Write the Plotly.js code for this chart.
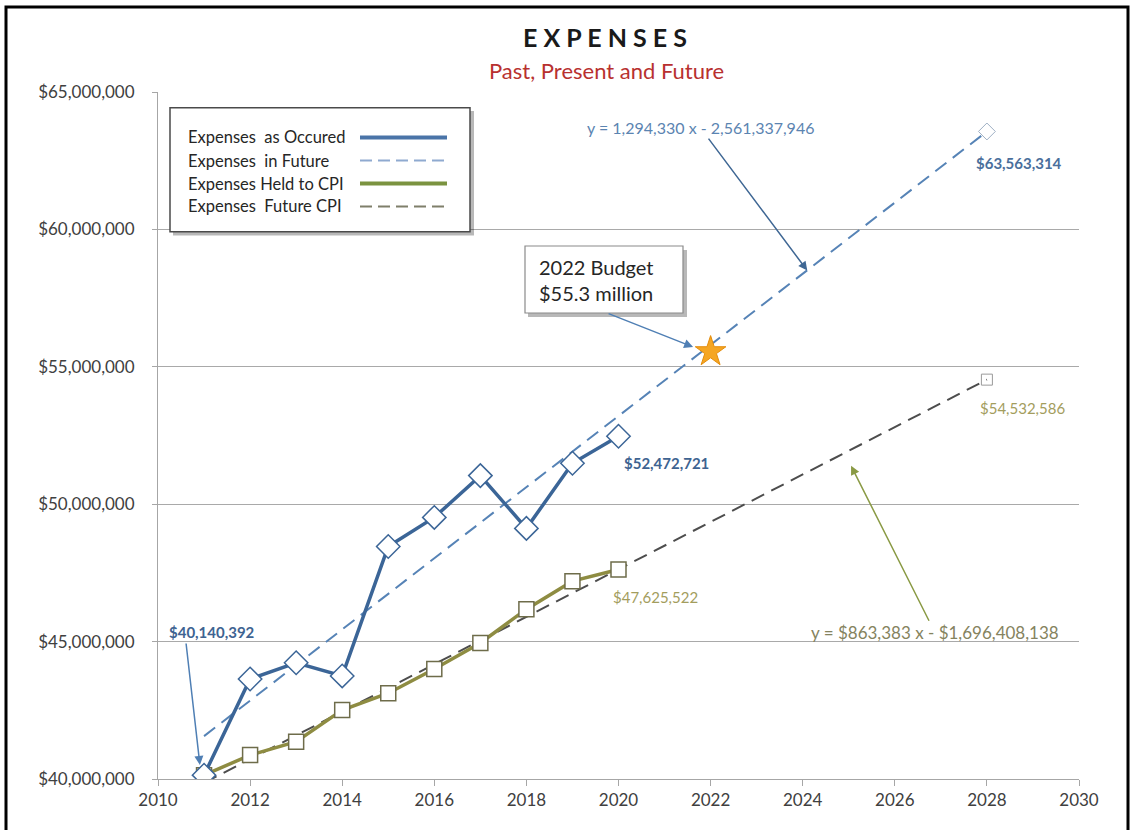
<!DOCTYPE html>
<html>
<head>
<meta charset="utf-8">
<script src="https://cdn.plot.ly/plotly-3.0.1.min.js"></script>
<style>html,body{margin:0;padding:0;background:#fff;}#chart{width:1136px;height:830px;}</style>
</head>
<body>
<div id="chart"></div>
<script>
// ---- data ----
const years = [2011, 2012, 2013, 2014, 2015, 2016, 2017, 2018, 2019, 2020];
const expensesOccurred = [40140392, 43640000, 44230000, 43750000, 48460000, 49520000, 51040000, 49120000, 51490000, 52472721];
const expensesCPI = [40140392, 40870000, 41360000, 42510000, 43120000, 44000000, 44950000, 46180000, 47200000, 47625522];
const futureYears = [2011, 2028];
const expensesFuture = [41560000, 63563314];
const expensesFutureCPI = [39860000, 54532586];
const budgetYear = [2022];
const budgetValue = [55550000];
const seriesNames = ["Expenses  as Occured", "Expenses  in Future", "Expenses Held to CPI", "Expenses  Future CPI"];
const xTicks = [2010, 2012, 2014, 2016, 2018, 2020, 2022, 2024, 2026, 2028, 2030];
const yTicks = [40000000, 45000000, 50000000, 55000000, 60000000, 65000000];

const W = 1136, H = 830, L = 158, R = 57, T = 92, B = 51;
const PW = W - L - R, PH = H - T - B;
const px = v => (v - L) / PW;
const py = v => (H - B - v) / PH;
const FONT = "Lato, 'Open Sans', sans-serif";
const BLUE = "#3b6597", BLUE_D = "#5683b6", OLIVE = "#8e8c42", GRAYD = "#4d4d4d";
const money = v => "$" + Math.round(v).toLocaleString("en-US");

const last = a => a[a.length - 1];

const traces = [
  {x: futureYears, y: expensesFuture, mode: "lines", name: seriesNames[1],
   line: {color: BLUE_D, width: 2, dash: "14px,8px"}},
  {x: futureYears, y: expensesFutureCPI, mode: "lines", name: seriesNames[3],
   line: {color: GRAYD, width: 2, dash: "14px,8px"}},
  {x: [last(futureYears)], y: [last(expensesFuture)], mode: "markers", showlegend: false,
   marker: {symbol: "diamond-open", size: 13, color: "#9fb0c4", line: {width: 1}}},
  {x: [last(futureYears)], y: [last(expensesFutureCPI)], mode: "markers", showlegend: false,
   marker: {symbol: "square-open", size: 11, color: "#9a9a9a", line: {width: 1}}},
  {x: years, y: expensesCPI, mode: "lines+markers", name: seriesNames[2],
   line: {color: OLIVE, width: 3.5},
   marker: {symbol: "square", size: 15, color: "#ffffff", line: {color: "#6e6c4a", width: 1.5}}},
  {x: years, y: expensesOccurred, mode: "lines+markers", name: seriesNames[0],
   line: {color: BLUE, width: 3.5},
   marker: {symbol: "diamond", size: 18, color: "#ffffff", line: {color: BLUE, width: 1.5}}},
  {x: budgetYear, y: budgetValue, mode: "markers", showlegend: false,
   marker: {symbol: "star", size: 23, color: "#f5a623", line: {color: "#e48d0c", width: 1}}}
];

// custom legend (text left, sample right, like the reference)
const legRows = [137.5, 160.5, 183.5, 206.5];
const legStyles = [
  {color: "#4a74a8", width: 4, dash: "solid"},
  {color: "#8faad0", width: 2, dash: "12px,6px"},
  {color: "#7b9340", width: 4, dash: "solid"},
  {color: "#7f7f6a", width: 2, dash: "12px,6px"}
];

const shapes = [
  // outer black frame
  {type: "rect", xref: "paper", yref: "paper", x0: px(6), x1: px(1128), y0: py(900), y1: py(7),
   line: {color: "#000", width: 3}, fillcolor: "rgba(0,0,0,0)", layer: "above"},
  // legend shadow and box
  {type: "rect", xref: "paper", yref: "paper", x0: px(173), x1: px(474), y0: py(235.5), y1: py(111),
   line: {width: 0}, fillcolor: "rgba(0,0,0,0.28)"},
  {type: "rect", xref: "paper", yref: "paper", x0: px(170), x1: px(470), y0: py(231.7), y1: py(107.7),
   line: {color: "#4a4a4a", width: 1.5}, fillcolor: "#ffffff"},
  // budget callout shadow and box
  {type: "rect", xref: "paper", yref: "paper", x0: px(528), x1: px(687), y0: py(317), y1: py(250),
   line: {width: 0}, fillcolor: "rgba(0,0,0,0.28)"},
  {type: "rect", xref: "paper", yref: "paper", x0: px(525), x1: px(683), y0: py(313), y1: py(246),
   line: {color: "#8a8a8a", width: 1.2}, fillcolor: "#ffffff"}
];
legRows.forEach((r, i) => {
  shapes.push({type: "line", xref: "paper", yref: "paper", x0: px(360), x1: px(447), y0: py(r), y1: py(r),
    line: legStyles[i]});
});

const annotations = [
  {xref: "paper", yref: "paper", x: px(606), y: py(70), text: "Past, Present and Future", showarrow: false,
   font: {family: FONT, size: 22, color: "#b8312f"}, xanchor: "center", yanchor: "middle"},
  // budget callout
  {xref: "paper", yref: "paper", x: px(537), y: py(279.5), text: "2022 Budget<br>$55.3 million", showarrow: false,
   align: "left", xanchor: "left", yanchor: "middle", font: {family: FONT, size: 20, color: "#262626"}},
  {x: 2021.62, y: 55720000, xref: "x", yref: "y", text: "", showarrow: true, ax: -86, ay: -34,
   arrowhead: 2, arrowsize: 1.2, arrowwidth: 1.5, arrowcolor: "#4f7fb4"},
  // trend equations
  {x: 2024.1, y: 58500000, xref: "x", yref: "y", text: "y = 1,294,330 x - 2,561,337,946", showarrow: true,
   ax: -107, ay: -143, arrowhead: 2, arrowsize: 1.2, arrowwidth: 1.5, arrowcolor: "#3f6794",
   font: {family: FONT, size: 16, color: "#5b84b1"}},
  {x: 2025.05, y: 51400000, xref: "x", yref: "y", text: "y = $863,383 x - $1,696,408,138", showarrow: true,
   ax: 84, ay: 167, arrowhead: 2, arrowsize: 1.2, arrowwidth: 1.5, arrowcolor: "#8a9a44",
   font: {family: FONT, size: 17, color: "#85835e"}},
  // first-point label and arrow
  {x: years[0], y: expensesOccurred[0], xref: "x", yref: "y", text: money(expensesOccurred[0]), showarrow: false,
   xshift: 8, yshift: 143, font: {family: FONT, size: 15, color: "#3e6391", weight: "bold"}},
  {x: 2010.91, y: 40510000, xref: "x", yref: "y", text: "", showarrow: true, ax: -14, ay: -123,
   arrowhead: 2, arrowsize: 1.2, arrowwidth: 1.5, arrowcolor: "#4f7fb4"},
  // end labels
  {x: last(years), y: last(expensesOccurred), xref: "x", yref: "y", text: money(last(expensesOccurred)), showarrow: false,
   xshift: 48, yshift: -27, font: {family: FONT, size: 15, color: "#3e6391", weight: "bold"}},
  {x: last(years), y: last(expensesCPI), xref: "x", yref: "y", text: money(last(expensesCPI)), showarrow: false,
   xshift: 37, yshift: -28, font: {family: FONT, size: 15, color: "#a39d5d"}},
  {x: last(futureYears), y: last(expensesFuture), xref: "x", yref: "y", text: money(last(expensesFuture)), showarrow: false,
   xshift: 32, yshift: -32, font: {family: FONT, size: 15, color: "#4a6f9c", weight: "bold"}},
  {x: last(futureYears), y: last(expensesFutureCPI), xref: "x", yref: "y", text: money(last(expensesFutureCPI)), showarrow: false,
   xshift: 36, yshift: -28, font: {family: FONT, size: 15, color: "#a39d5d"}}
];
seriesNames.forEach((n, i) => {
  annotations.push({xref: "paper", yref: "paper", x: px(186), y: py(legRows[i]), text: n, showarrow: false,
    xanchor: "left", yanchor: "middle", font: {family: FONT, size: 16.5, color: "#262626"}});
});

const layout = {
  width: W, height: H,
  margin: {l: L, r: R, t: T, b: B},
  paper_bgcolor: "#ffffff", plot_bgcolor: "#ffffff",
  showlegend: false,
  font: {family: FONT, color: "#404040"},
  title: {text: "<b>E X P E N S E S</b>", xref: "container", yref: "container",
          x: 605 / W, y: 1 - 38 / H, xanchor: "center", yanchor: "middle",
          font: {family: FONT, size: 25, color: "#1a1a1a"}},
  xaxis: {range: [2010, 2030], tickvals: xTicks, ticktext: xTicks.map(String),
          showgrid: false, zeroline: false, showline: true, linecolor: "#a6a6a6", linewidth: 1,
          ticks: "outside", ticklen: 6, tickcolor: "#a6a6a6",
          tickfont: {family: FONT, size: 17, color: "#404040"}},
  yaxis: {range: [40000000, 65000000], tickvals: yTicks, ticktext: yTicks.map(money),
          showgrid: true, gridcolor: "#a9a9a9", gridwidth: 1, zeroline: false,
          showline: true, linecolor: "#a6a6a6", linewidth: 1,
          ticks: "outside", ticklen: 5, tickcolor: "#a6a6a6", ticklabelstandoff: 14,
          tickfont: {family: FONT, size: 17, color: "#404040"}},
  shapes: shapes,
  annotations: annotations
};

Plotly.newPlot("chart", traces, layout, {displayModeBar: false, staticPlot: true});
</script>
</body>
</html>
